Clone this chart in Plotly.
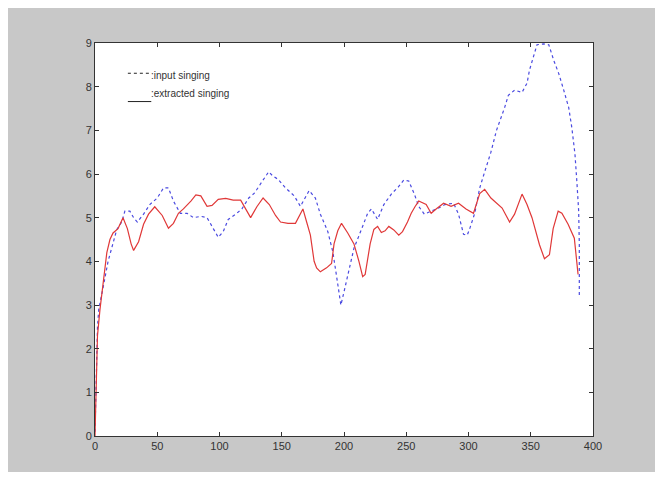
import plotly.graph_objects as go

# extracted singing (red, solid)
red_x = [0, 1, 2, 4, 6.5, 9.5, 12, 14.5, 18.5, 22.5, 26, 29, 31, 35, 39, 43, 48, 54, 59, 63, 67, 71, 77, 81,
         85, 90, 94, 99, 105, 111, 117, 121, 125, 130, 135, 140, 145, 149, 155, 161, 165, 167, 170, 173,
         176, 178, 181, 186, 190, 192, 195, 198, 203, 208, 212, 215, 217, 219, 221, 224, 227, 230, 233,
         236, 240, 244, 247, 251, 254, 257, 260, 266, 270, 274, 280, 286, 292, 298, 304, 309, 313, 318,
         321, 327, 333, 337, 343, 347, 351, 354, 357, 361, 365, 368, 372, 375, 380, 385, 387, 388]
red_y = [0, 1.3, 2.3, 2.9, 3.5, 4.2, 4.5, 4.65, 4.75, 5.0, 4.75, 4.4, 4.25, 4.45, 4.85, 5.08, 5.25, 5.05,
         4.76, 4.87, 5.1, 5.2, 5.38, 5.52, 5.5, 5.26, 5.28, 5.42, 5.44, 5.4, 5.4, 5.2, 5.0, 5.25, 5.45, 5.3,
         5.05, 4.9, 4.87, 4.87, 5.1, 5.2, 4.9, 4.6, 4.0, 3.85, 3.76, 3.85, 3.95, 4.4, 4.7, 4.87, 4.65, 4.4,
         4.0, 3.65, 3.7, 4.07, 4.4, 4.73, 4.8, 4.66, 4.7, 4.8, 4.72, 4.6, 4.68, 4.9, 5.1, 5.25, 5.38, 5.3,
         5.1, 5.2, 5.33, 5.26, 5.33, 5.2, 5.1, 5.55, 5.65, 5.45, 5.38, 5.22, 4.9, 5.08, 5.54, 5.3, 5.0, 4.7,
         4.38, 4.06, 4.15, 4.75, 5.15, 5.1, 4.85, 4.53, 4.0, 3.7]

# input singing (blue, dashed)
blue_x = [0, 1, 2, 3, 4, 6.5, 10.5, 13.5, 17.5, 21.5, 24, 28, 31, 34, 39, 44, 50, 55, 59, 63, 68.5, 74, 79,
          85, 90, 95, 99, 103, 107, 113, 118, 123.5, 128, 134.5, 139.5, 143, 147, 153, 160, 165, 169, 172,
          177, 181, 187, 191, 193.5, 195, 197.5, 200, 203, 208, 214, 219, 222, 227, 232, 238, 243.5, 248,
          252, 256.5, 260, 264.5, 270, 276, 281, 288, 292, 296, 299, 301, 305, 309, 313, 318, 322.5, 326.5,
          329, 332, 337, 343, 347, 349, 352, 355, 360.5, 364.5, 368.5, 372.5, 376.5, 380.5, 383, 385.5,
          387, 388.5, 389, 389, 389]
blue_y = [0.1, 1.6, 2.5, 2.9, 3.07, 3.4, 4.0, 4.3, 4.73, 4.9, 5.15, 5.15, 5.0, 4.9, 5.08, 5.3, 5.45, 5.68,
          5.68, 5.38, 5.1, 5.1, 5.0, 5.03, 5.0, 4.75, 4.55, 4.68, 4.96, 5.08, 5.2, 5.45, 5.56, 5.84, 6.05,
          5.95, 5.88, 5.68, 5.5, 5.26, 5.45, 5.62, 5.45, 5.08, 4.68, 4.22, 3.76, 3.5, 3.0, 3.3, 3.65, 4.3,
          4.73, 5.1, 5.2, 4.96, 5.3, 5.54, 5.7, 5.86, 5.84, 5.54, 5.26, 5.08, 5.15, 5.22, 5.3, 5.33, 5.08,
          4.62, 4.6, 4.75, 5.1, 5.68, 6.05, 6.5, 7.0, 7.3, 7.52, 7.8, 7.92, 7.87, 8.08, 8.38, 8.68, 8.96,
          8.98, 8.96, 8.6, 8.3, 7.92, 7.52, 7.06, 6.46, 5.84, 5.15, 4.38, 3.7, 3.2]

x_ticks = [0, 50, 100, 150, 200, 250, 300, 350, 400]
y_ticks = [0, 1, 2, 3, 4, 5, 6, 7, 8, 9]
legend_labels = [":input singing", ":extracted singing"]

fig = go.Figure()
fig.add_trace(go.Scatter(x=blue_x, y=blue_y, mode="lines",
                         line=dict(color="#4a4ae0", width=1.2, dash="3px,3px"),
                         name="input singing", showlegend=False))
fig.add_trace(go.Scatter(x=red_x, y=red_y, mode="lines",
                         line=dict(color="#e03838", width=1.2),
                         name="extracted singing", showlegend=False))

# legend drawn MATLAB-style: black sample lines + text
fig.add_shape(type="line", xref="paper", yref="paper", x0=0.066, x1=0.113, y0=0.923, y1=0.923,
              line=dict(color="#222", width=1, dash="3px,3px"))
fig.add_shape(type="line", xref="paper", yref="paper", x0=0.066, x1=0.113, y0=0.851, y1=0.851,
              line=dict(color="#222", width=1))
fig.add_annotation(xref="paper", yref="paper", x=0.113, y=0.918, text=legend_labels[0],
                   showarrow=False, xanchor="left", yanchor="middle", xshift=-2,
                   font=dict(family="Liberation Sans, Arial", size=10, color="#333"))
fig.add_annotation(xref="paper", yref="paper", x=0.113, y=0.872, text=legend_labels[1],
                   showarrow=False, xanchor="left", yanchor="middle", xshift=-2,
                   font=dict(family="Liberation Sans, Arial", size=10, color="#333"))

axis_common = dict(showgrid=False, zeroline=False, showline=True, linecolor="#333", linewidth=1,
                   mirror="ticks", ticks="inside", ticklen=4, tickcolor="#333",
                   tickfont=dict(family="Liberation Sans, Arial", size=11, color="#333"))
fig.update_xaxes(range=[0, 400], tickvals=x_ticks, ticktext=[str(v) for v in x_ticks], **axis_common)
fig.update_yaxes(range=[0, 9], tickvals=y_ticks, ticktext=[str(v) for v in y_ticks], **axis_common)

fig.update_layout(width=647, height=464, margin=dict(l=87, r=62, t=35, b=36),
                  paper_bgcolor="#c8c8c8", plot_bgcolor="white", showlegend=False)

fig.write_html("out.html")
